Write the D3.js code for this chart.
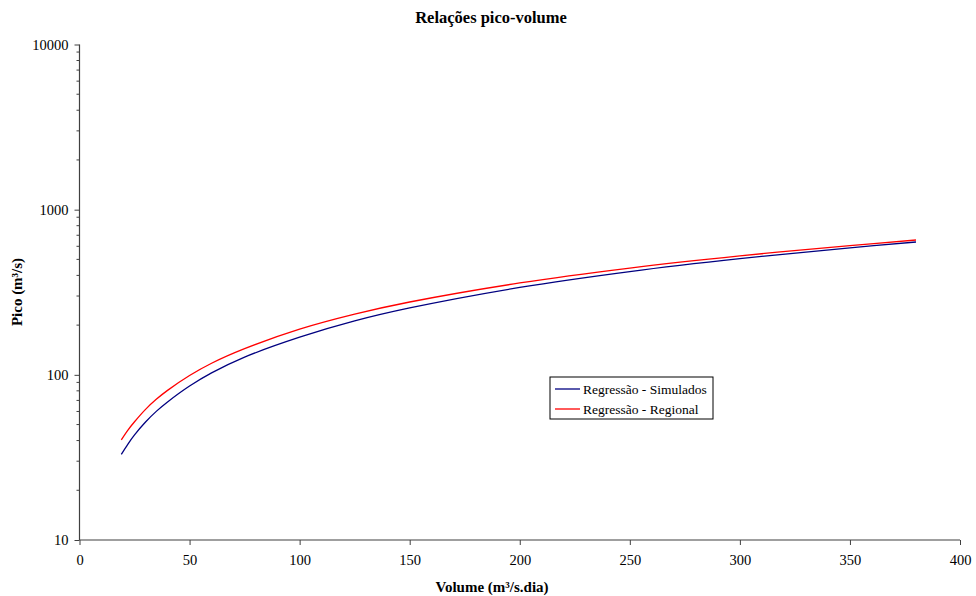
<!DOCTYPE html>
<html>
<head>
<meta charset="utf-8">
<script src="https://cdn.jsdelivr.net/npm/d3@7"></script>
<style>
  html, body { margin: 0; padding: 0; background: #fff; }
  svg text { font-family: "Liberation Serif", "Times New Roman", serif; fill: #000; }
</style>
</head>
<body>
<svg id="chart" width="976" height="596"></svg>
<script>
// Volume (m³/s.dia) sampled along both regression curves
const volume = [19, 22, 25, 30, 35, 40, 50, 60, 75, 100, 125, 150, 200, 250, 300, 350, 380];
// Peak discharge (m³/s) from the regression on simulated events
const picoSimulados = [33, 38.1, 43.3, 51.8, 60.3, 68.5, 85.5, 102.7, 128, 169, 212, 254, 338, 422, 505, 587, 637];
// Peak discharge (m³/s) from the regional regression
const picoRegional = [40.4, 46.3, 52, 61.8, 71.3, 80.5, 99, 117.5, 144, 189, 233, 276, 360, 443, 525, 606, 655];

const xTicks = [0, 50, 100, 150, 200, 250, 300, 350, 400];
const yTicks = [10, 100, 1000, 10000];

const series = [
  { name: "Regressão - Simulados", values: picoSimulados, color: "#000080" },
  { name: "Regressão - Regional", values: picoRegional, color: "#ff0000" }
];

const serif = "'Liberation Serif', 'Times New Roman', serif";
const svg = d3.select("#chart");
const plotLeft = 79.5, plotRight = 960, plotTop = 44.5, plotBottom = 540;

const x = d3.scaleLinear().domain([0, 400]).range([plotLeft, plotRight]);
const y = d3.scaleLog().domain([10, 10000]).range([plotBottom, plotTop]);

const axisColor = "#404040";

// Title
svg.append("text")
  .attr("x", 491).attr("y", 23)
  .attr("text-anchor", "middle")
  .attr("font-family", serif)
  .attr("font-size", 16.5).attr("font-weight", "bold")
  .text("Relações pico-volume");

// X axis
const xAxis = svg.append("g")
  .attr("transform", `translate(0,${plotBottom})`)
  .call(d3.axisBottom(x).tickValues(xTicks).tickFormat(d3.format("d")).tickSize(5).tickPadding(10))
  .attr("font-family", serif).attr("font-size", 14.5);

// Y axis with major and minor log ticks
const yAxis = svg.append("g")
  .attr("transform", `translate(${plotLeft},0)`)
  .call(d3.axisLeft(y).tickValues(yTicks).tickFormat(d3.format("d")).tickSize(5).tickPadding(6))
  .attr("font-family", serif).attr("font-size", 14.5);

const minor = [];
yTicks.slice(0, -1).forEach(d => { for (let k = 2; k <= 9; k++) minor.push(d * k); });
svg.append("g").selectAll("line")
  .data(minor).join("line")
  .attr("x1", plotLeft - 3).attr("x2", plotLeft)
  .attr("y1", d => y(d)).attr("y2", d => y(d))
  .attr("stroke", axisColor).attr("stroke-width", 1);

[xAxis, yAxis].forEach(g => {
  g.select(".domain").attr("stroke", axisColor).attr("stroke-width", 1.2);
  g.selectAll(".tick line").attr("stroke", axisColor).attr("stroke-width", 1);
});
yAxis.select(".domain").attr("d", `M0,${plotBottom}V${plotTop}`);
xAxis.select(".domain").attr("d", `M${plotLeft},0H${plotRight}`);

// Axis titles
svg.append("text")
  .attr("x", 492).attr("y", 592)
  .attr("text-anchor", "middle")
  .attr("font-family", serif)
  .attr("font-size", 15).attr("font-weight", "bold")
  .text("Volume (m³/s.dia)");

svg.append("text")
  .attr("transform", "translate(22,292) rotate(-90)")
  .attr("text-anchor", "middle")
  .attr("font-family", serif)
  .attr("font-size", 15).attr("font-weight", "bold")
  .text("Pico (m³/s)");

// Curves
const line = d3.line()
  .x((d, i) => x(volume[i]))
  .y(d => y(d))
  .curve(d3.curveCatmullRom.alpha(0.5));

svg.append("g").selectAll("path")
  .data(series).join("path")
  .attr("d", s => line(s.values))
  .attr("fill", "none")
  .attr("stroke", s => s.color)
  .attr("stroke-width", 1.3);

// Legend
const lg = svg.append("g").attr("transform", "translate(550,377)");
lg.append("rect")
  .attr("x", 0).attr("y", 0).attr("width", 163).attr("height", 42)
  .attr("fill", "#fff").attr("stroke", "#000").attr("stroke-width", 1);
series.forEach((s, i) => {
  const yy = 12 + i * 20;
  lg.append("line")
    .attr("x1", 5).attr("x2", 30).attr("y1", yy).attr("y2", yy)
    .attr("stroke", s.color).attr("stroke-width", 1.3);
  lg.append("text")
    .attr("x", 33).attr("y", yy + 4.5)
    .attr("font-family", serif)
    .attr("font-size", 13.5)
    .text(s.name);
});
</script>
</body>
</html>
